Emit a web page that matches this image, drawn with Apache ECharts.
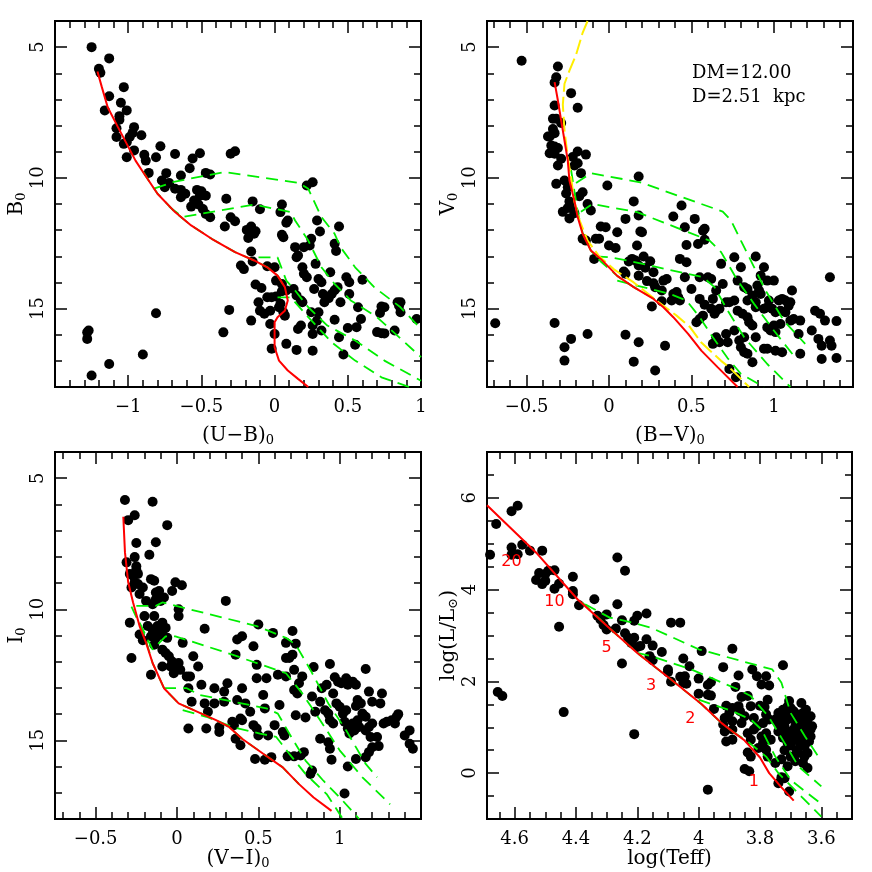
<!DOCTYPE html>
<html>
<head>
<meta charset="utf-8" />
<title>CMD</title>
<script src="https://cdn.jsdelivr.net/npm/echarts@6/dist/echarts.min.js"></script>
<style>html,body{margin:0;padding:0;background:#fff}</style>
</head>
<body>
<div id="main" style="width:872px;height:872px;"></div>
<script type="text/javascript">
// ---- panel 1 : B0 vs (U-B)0
const ubStars = [[-1.25,5.0],[-1.13,5.43],[-1.2,5.83],[-1.19,5.98],[-1.03,6.53],[-1.13,6.88],[-1.05,7.13],[-1.16,7.42],[-1.01,7.42],[-1.06,7.64],[-1.06,7.78],[-1.08,8.1],[-0.96,8.06],[-0.97,8.28],[-0.91,8.37],[-1.08,8.44],[-0.99,8.44],[-1.01,8.64],[-1.03,8.7],[-0.96,8.95],[-0.78,8.79],[-1.01,9.21],[-0.89,9.12],[-0.88,9.34],[-0.81,9.21],[-0.68,9.09],[-0.56,9.26],[-0.51,9.06],[-0.3,9.08],[-0.27,8.98],[-0.58,9.63],[-0.86,9.81],[-0.74,9.82],[-0.64,9.91],[-0.47,9.81],[-0.44,9.87],[-0.77,10.1],[-0.72,10.2],[-0.75,10.36],[-0.68,10.42],[-0.64,10.46],[-0.61,10.61],[-0.64,10.74],[-0.53,10.46],[-0.5,10.51],[-0.47,10.68],[-0.51,10.68],[-0.55,10.87],[-0.57,11.1],[-0.52,11.02],[-0.49,11.19],[-0.44,11.51],[-0.47,11.38],[-0.33,10.8],[-0.15,10.9],[-0.1,11.2],[-0.3,11.51],[-0.27,11.66],[-0.34,11.86],[-0.19,11.99],[-0.16,11.86],[-0.17,12.14],[-0.14,12.14],[-0.18,12.3],[-0.13,12.04],[-0.16,12.82],[0.05,11.02],[0.04,11.31],[0.08,11.72],[0.09,11.63],[0.05,12.18],[0.06,12.27],[0.14,12.65],[0.15,13.04],[0.16,12.97],[0.2,12.65],[0.24,12.59],[0.25,12.33],[0.29,11.63],[0.31,12.05],[0.22,10.29],[0.26,10.17],[0.44,11.86],[0.41,12.52],[-0.23,13.35],[-0.21,13.49],[-0.15,13.2],[-0.05,13.38],[0.0,13.42],[-0.13,14.08],[-0.09,14.21],[-0.05,14.57],[-0.02,14.57],[0.01,14.54],[0.05,14.34],[0.08,14.31],[-0.11,14.76],[-0.1,15.08],[-0.07,15.2],[-0.03,15.08],[-0.16,15.46],[-0.03,15.59],[0.01,13.93],[0.05,14.06],[0.13,14.25],[0.15,14.5],[0.18,14.69],[0.19,14.76],[0.03,14.95],[0.06,15.14],[0.07,15.27],[0.04,14.82],[0.0,15.97],[-0.02,16.54],[0.08,16.35],[0.16,15.78],[0.18,15.65],[0.15,16.58],[0.26,15.97],[0.26,15.65],[0.26,16.61],[0.3,15.14],[0.29,15.46],[0.32,15.84],[0.25,15.14],[0.2,13.67],[0.22,13.8],[0.19,13.42],[0.27,14.25],[0.3,13.87],[0.32,13.99],[0.28,13.29],[0.33,14.44],[0.35,14.6],[0.34,14.76],[0.37,14.6],[0.39,14.44],[0.41,14.3],[0.43,14.18],[0.38,13.61],[0.42,12.8],[0.41,15.43],[0.45,14.76],[0.44,16.1],[0.47,16.76],[0.49,13.8],[0.51,13.99],[0.51,14.44],[0.6,13.9],[0.5,15.74],[0.56,15.71],[0.55,16.38],[0.59,15.4],[0.57,14.95],[0.73,14.92],[0.72,15.17],[0.75,14.95],[0.7,15.9],[0.73,15.94],[0.75,15.95],[0.82,15.84],[0.84,14.76],[0.86,14.76],[0.85,14.89],[0.86,15.14],[0.97,15.4],[-0.35,15.91],[-0.31,15.05],[-0.81,15.18],[-1.28,15.91],[-1.27,15.84],[-1.28,16.16],[-0.9,16.76],[-1.13,17.12],[-1.25,17.56]];
const ubZams = [[-1.21,5.93],[-1.18,6.53],[-1.14,7.3],[-1.07,8.06],[-1.01,8.7],[-0.95,9.34],[-0.89,9.85],[-0.8,10.61],[-0.68,11.31],[-0.57,11.82],[-0.43,12.33],[-0.27,12.84],[-0.14,13.16],[-0.05,13.42],[0.02,13.74],[0.07,14.18],[0.09,14.69],[0.07,15.08],[0.02,15.33],[0.0,15.52],[0.0,16.48],[0.03,16.99],[0.09,17.37],[0.16,17.69],[0.23,18.0]];
const ubIso = [
  [[-0.9,9.75],[-0.86,10.1],[-0.8,10.6],[-0.68,11.31],[-0.57,11.82],[-0.43,12.33],[-0.27,12.84],[-0.14,13.16],[-0.05,13.42],[0.02,13.74],[0.06,14.1]],
  [[-0.82,10.4],[-0.68,10.14],[-0.34,9.78],[0.17,10.2],[0.23,10.42],[0.32,11.5],[0.41,12.14],[0.45,12.65],[0.55,13.42],[0.68,14.18],[0.86,14.95],[1.0,15.78]],
  [[-0.72,11.1],[-0.63,11.5],[-0.14,11.02],[0.11,11.31],[0.14,11.63],[0.23,12.4],[0.32,13.42],[0.41,14.06],[0.52,14.69],[0.7,15.33],[1.0,16.86]],
  [[-0.11,13.04],[0.02,13.04],[0.08,13.93],[0.14,14.31],[0.23,14.95],[0.36,15.65],[0.55,16.22],[0.75,16.99],[1.0,17.76]],
  [[0.02,14.57],[0.11,14.57],[0.23,15.33],[0.39,16.29],[0.55,16.99],[0.73,17.63],[0.92,18.0]]
];

// ---- panel 2 : V0 vs (B-V)0
const bvStars = [[-0.53,5.52],[-0.31,5.74],[-0.32,6.15],[-0.33,6.35],[-0.23,6.76],[-0.19,7.32],[-0.33,7.23],[-0.34,7.74],[-0.32,7.74],[-0.29,7.9],[-0.34,8.13],[-0.33,8.29],[-0.37,8.42],[-0.36,8.42],[-0.35,8.76],[-0.33,8.8],[-0.36,9.06],[-0.33,9.08],[-0.31,8.86],[-0.29,9.27],[-0.31,9.53],[-0.32,10.23],[-0.27,10.1],[-0.25,10.36],[-0.19,8.99],[-0.14,9.11],[-0.21,9.53],[-0.19,9.44],[-0.17,9.82],[-0.22,9.2],[-0.01,10.29],[0.18,9.95],[-0.26,10.6],[-0.24,10.9],[-0.23,11.15],[-0.25,11.15],[-0.24,11.55],[-0.21,11.35],[-0.18,10.7],[-0.16,10.55],[-0.13,11.0],[-0.11,11.25],[-0.28,11.3],[-0.16,12.33],[-0.14,12.4],[-0.08,12.33],[-0.06,12.33],[-0.09,13.1],[-0.05,11.86],[-0.02,11.89],[0.05,12.08],[0.1,11.57],[0.15,10.9],[0.18,11.44],[0.19,12.05],[0.39,11.48],[0.44,11.06],[0.46,11.89],[0.52,11.57],[0.57,12.02],[0.58,11.95],
  [0,12.59],[0.04,12.68],[0.17,12.59],[0.2,12.08],[0.47,12.57],[0.54,12.53],[0.58,12.37],[0.12,13.2],[0.14,13.1],[0.16,13.16],[0.18,13.35],[0.21,13.01],[0.25,13.19],[0.09,13.58],[0.1,13.67],[0.18,13.74],[0.22,13.44],[0.23,13.95],[0.27,13.61],[0.27,14.03],[0.28,14.18],[0.32,14.31],[0.33,13.93],[0.35,13.87],[0.39,14.44],[0.41,14.37],[0.43,14.69],[0.38,14.69],[0.42,14.57],[0.32,14.72],[0.26,14.92],[0.43,13.1],[0.47,13.23],[0.46,13.8],[0.55,13.8],[0.6,13.8],[0.62,13.87],[0.5,14.25],[0.55,14.63],[0.58,14.85],[0.63,14.63],[0.65,15.08],[0.62,15.01],[0.67,15.01],[0.68,13.29],[0.69,14.06],[0.65,14.31],[0.71,14.76],[0.73,14.76],[0.76,14.69],[0.76,13.04],[0.8,13.42],[0.78,13.93],[0.82,14.18],[0.84,14.25],[0.84,14.69],[0.87,14.5],[0.89,14.76],[0.89,13.01],[0.92,13.74],[0.94,13.42],[0.9,14.12],[0.91,14.31],[0.92,14.44],[0.96,13.93],[0.97,14.69],[1.0,13.93],[1.03,14.69],[1.05,14.63],[1.07,14.69],[1.1,14.76],[1.11,14.31],[1.09,14.89],[0.78,15.08],[0.81,15.2],[0.84,15.33],[0.85,15.52],[0.87,15.65],[0.89,14.95],[0.94,15.01],[0.96,14.95],[0.99,15.01],[1.01,15.14],[1.04,15.08],[1.07,15.14],[1.1,15.46],[1.12,15.4],[1.16,15.46],[1.15,15.97],[0.96,15.72],[0.98,15.84],[1.01,15.9],[1.04,15.59],[1.0,15.65],[0.55,15.4],[0.57,15.27],[0.53,15.52],[0.64,15.2],[0.65,16.1],[0.67,16.29],[0.63,16.35],[0.71,15.97],[0.72,16.29],[0.76,15.84],[0.79,16.22],[0.82,16.1],[0.8,16.48],[0.82,16.67],[0.84,16.73],[0.87,17.05],[0.89,16.1],[0.94,16.54],[0.96,16.54],[1.01,16.61],[1.05,16.67],[1.16,16.73],[1.23,15.84],[1.25,15.08],[1.28,15.2],[1.31,15.46],[1.38,15.48],[1.27,16.16],[1.29,16.42],[1.34,16.22],[1.35,16.42],[1.29,16.93],[1.38,16.89],[1.34,13.8],[0.1,16.0],[0.18,16.29],[0.34,16.42],[0.15,17.03],[0.28,17.37],[0.73,17.31],[0.77,17.63],
  [-0.69,15.56],[-0.33,15.55],[-0.27,16.48],[-0.27,16.99],[-0.23,16.16],[-0.13,15.97]];
const bvZams = [[-0.33,6.34],[-0.31,7.04],[-0.29,7.81],[-0.27,8.57],[-0.25,9.34],[-0.24,10.1],[-0.21,10.87],[-0.19,11.5],[-0.16,12.14],[-0.11,12.78],[-0.05,13.1],[0.05,13.75],[0.15,14.18],[0.27,14.63],[0.33,14.95],[0.39,15.33],[0.48,15.97],[0.56,16.61],[0.66,17.25],[0.78,18.0]];
const bvYellow = [[-0.13,4.0],[-0.16,4.45],[-0.2,5.3],[-0.24,5.9],[-0.27,6.4],[-0.28,7.2],[-0.27,8.2],[-0.25,9.2],[-0.23,10.0],[-0.21,10.9],[-0.18,11.6],[-0.13,12.4],[-0.06,13.0],[0.03,13.5],[0.15,14.0],[0.3,14.75],[0.41,15.27],[0.49,15.7],[0.56,16.3],[0.68,17.0],[0.73,17.25],[0.85,18.0]];
const bvIso = [
  [[-0.23,9.7],[-0.21,10.5],[-0.19,11.3],[-0.16,12.1],[-0.11,12.78],[-0.05,13.2],[0.05,13.75],[0.15,14.18],[0.28,14.65]],
  [[-0.2,10.2],[-0.11,9.82],[0.19,10.17],[0.69,11.29],[0.74,11.63],[0.8,12.4],[0.87,13.29],[0.95,14.31],[1.06,15.46],[1.19,16.35]],
  [[-0.17,11.3],[-0.1,11.0],[0.17,11.31],[0.61,12.4],[0.68,12.84],[0.78,13.93],[0.88,14.82],[1.0,15.84],[1.12,16.8]],
  [[-0.08,13.0],[0.01,13.04],[0.11,13.16],[0.57,13.8],[0.64,14.18],[0.72,15.08],[0.82,16.1],[0.96,17.12],[1.1,18.0]],
  [[0.05,13.93],[0.13,14.06],[0.37,14.44],[0.47,14.69],[0.55,15.33],[0.63,16.1],[0.72,16.9],[0.8,17.5],[0.94,18.0]]
];

// ---- panel 3 : I0 vs (V-I)0
const viStars = [[-0.32,5.83],[-0.15,5.9],[-0.26,6.41],[-0.3,6.6],[-0.06,6.79],[-0.25,7.47],[-0.13,7.44],[-0.26,8.01],[-0.17,7.92],[-0.31,8.21],[-0.25,8.36],[-0.25,8.49],[-0.29,8.65],[-0.27,8.72],[-0.24,8.65],[-0.26,8.97],[-0.28,9.17],[-0.24,9.04],[-0.21,9.17],[-0.23,9.42],[-0.19,9.68],[-0.16,8.85],[-0.14,8.91],[-0.01,8.97],[0.03,9.08],[-0.03,9.3],[-0.13,9.36],[-0.11,9.3],[-0.08,9.55],[-0.13,9.62],[-0.1,9.68],[-0.15,9.81],[0.01,10.0],[0.01,10.26],[0.3,9.68],[-0.29,10.51],[-0.2,10.26],[-0.14,10.26],[-0.18,10.64],[-0.15,10.77],[-0.12,10.64],[-0.09,10.51],[-0.07,10.71],[-0.16,11.03],[-0.13,11.09],[-0.1,10.9],[-0.08,11.03],[-0.06,11.09],[-0.23,10.96],[-0.21,11.18],[-0.14,11.35],[0.035,11.28],[-0.09,11.54],[-0.07,11.67],[-0.05,11.79],[-0.03,11.99],[-0.01,12.18],[0.01,12.05],[-0.04,12.18],[-0.02,12.44],[0.02,12.31],[0.06,12.56],[0.08,12.56],[-0.09,12.18],[-0.16,12.5],[-0.28,11.86],[0.1,11.79],[0.13,12.18],[0.17,10.74],[0.07,13.01],[0.09,13.53],[0.15,12.88],[0.17,13.59],[0.19,13.91],[0.07,14.55],[0.18,14.55],[0.23,13.01],[0.29,13.14],[0.31,12.82],[0.29,13.53],[0.26,14.49],[0.26,14.68],[0.23,13.59],[0.34,14.29],[0.36,14.94],[0.39,15.19],[0.35,14.42],[0.4,13.01],[0.37,13.46],[0.42,13.59],[0.39,14.17],[0.4,14.23],[0.45,13.91],[0.47,14.42],[0.49,14.55],[0.53,13.27],[0.54,13.78],[0.5,14.81],[0.48,15.71],[0.54,15.74],[0.58,15.64],[0.56,14.81],[0.37,11.15],[0.4,11.03],[0.36,11.73],[0.47,11.41],[0.49,12.12],[0.49,12.63],[0.5,10.58],[0.55,12.63],[0.62,12.5],[0.63,13.65],[0.6,14.42],[0.65,14.68],[0.66,14.81],[0.59,10.9],[0.67,11.28],[0.71,10.83],[0.73,11.31],[0.67,11.86],[0.69,11.86],[0.71,11.73],[0.67,12.56],[0.72,12.31],[0.72,13.08],[0.74,13.21],[0.73,14.04],[0.79,14.13],[0.77,12.56],[0.75,12.82],[0.83,13.33],[0.85,13.91],[0.88,13.53],[0.84,12.2],[0.94,12.09],[0.68,15.61],[0.72,15.61],[0.76,15.58],[0.78,15.45],[0.83,16.15],[0.82,16.28],[0.88,14.94],[0.93,15.07],[0.94,15.32],[0.95,15.74],[1.05,16.0],[1.03,17.03],[0.89,13.01],[0.92,12.88],[0.96,13.21],[0.97,12.59],[0.99,12.76],[1.01,12.82],[1.05,12.88],[1.08,12.76],[1.1,12.88],[1.16,12.28],[0.91,13.85],[0.93,13.98],[0.94,14.23],[0.96,14.36],[0.98,13.59],[1.0,13.72],[1.02,13.98],[1.03,14.29],[1.04,13.85],[1.05,14.55],[1.06,14.74],[1.08,14.36],[1.09,14.62],[1.11,14.23],[1.12,14.49],[1.14,13.98],[1.13,13.59],[1.16,14.1],[1.16,14.62],[1.18,14.49],[1.19,14.87],[1.2,14.36],[1.23,14.87],[1.2,15.26],[1.18,15.45],[1.24,15.22],[1.25,13.59],[1.26,13.21],[1.18,13.14],[1.27,14.36],[1.29,14.29],[1.32,14.23],[1.35,14.1],[1.36,14.0],[1.34,14.36],[1.16,15.64],[1.1,15.71],[1.4,14.81],[1.43,14.62],[1.43,15.13],[1.45,15.32],[1.1,13.69],[1.11,13.46],[1.2,13.53],[1.04,12.63]];
const viZams = [[-0.33,6.47],[-0.32,7.82],[-0.3,8.97],[-0.27,9.74],[-0.23,10.64],[-0.19,11.28],[-0.15,12.05],[-0.08,13.01],[0.01,13.59],[0.14,13.95],[0.24,14.23],[0.32,14.49],[0.4,14.94],[0.53,15.51],[0.65,16.03],[0.75,16.67],[0.84,17.18],[0.95,17.69]];
const viIso = [
  [[-0.28,9.9],[-0.25,10.3],[-0.2,11.0],[-0.15,12.05],[-0.08,13.01],[0.01,13.59],[0.14,13.95],[0.24,14.23],[0.32,14.49],[0.4,14.94],[0.53,15.51],[0.65,16.03],[0.75,16.67]],
  [[-0.25,9.87],[-0.13,9.87],[-0.09,9.74],[0.49,10.64],[0.67,11.09],[0.73,11.35],[0.82,12.31],[0.93,13.59],[1.04,14.62],[1.16,15.9],[1.23,16.41]],
  [[-0.23,10.51],[-0.15,11.54],[-0.07,11.03],[-0.01,11.03],[0.34,11.73],[0.67,12.44],[0.77,13.21],[0.88,14.23],[1.0,15.38],[1.14,16.41],[1.31,17.44]],
  [[-0.08,13.01],[0.06,13.01],[0.14,13.27],[0.55,13.78],[0.62,13.98],[0.69,14.74],[0.79,15.77],[0.9,16.54],[1.02,17.31],[1.12,18.0]],
  [[0.035,13.85],[0.18,14.1],[0.34,14.49],[0.51,14.74],[0.61,14.87],[0.69,15.51],[0.79,16.28],[0.92,17.05],[1.02,18.0]]
];

// ---- panel 4 : HR diagram
const hrStars = [[4.61,5.71],[4.59,5.83],[4.66,5.43],[4.68,4.76],[4.61,4.92],[4.61,4.76],[4.59,4.77],[4.575,4.98],[4.55,4.85],[4.51,4.85],[4.53,4.21],[4.52,4.36],[4.5,4.19],[4.5,4.34],[4.49,4.41],[4.47,4.42],[4.51,4.12],[4.47,4.02],[4.455,4.13],[4.41,4.28],[4.41,3.97],[4.41,3.9],[4.39,3.66],[4.455,3.19],[4.44,1.33],[4.655,1.77],[4.64,1.68],[4.265,4.7],[4.24,4.41],[4.265,3.68],[4.34,3.79],[4.33,3.43],[4.32,3.35],[4.3,3.46],[4.3,3.13],[4.27,3.15],[4.31,3.23],[4.25,3.33],[4.21,3.32],[4.2,3.43],[4.17,3.48],[4.24,3.05],[4.23,2.95],[4.21,2.95],[4.22,2.84],[4.2,2.75],[4.19,2.77],[4.17,2.92],[4.15,2.78],[4.25,2.39],[4.16,2.55],[4.15,2.46],[4.12,2.64],[4.1,2.26],[4.1,2.2],[4.09,3.28],[4.06,3.28],[4.09,1.99],[4.05,2.5],[4.03,2.33],[4.06,2.1],[4.05,1.97],[4.04,1.95],[4.045,2.11],[3.99,2.66],[4.0,2.06],[3.97,1.92],[3.96,1.98],[3.97,1.71],[3.96,1.69],[4.0,1.73],[3.95,1.4],[3.92,2.31],[3.89,2.71],[3.87,2.13],[3.88,1.88],[3.86,1.66],[3.87,1.46],[3.91,1.47],[3.9,1.31],[3.89,1.42],[3.915,1.2],[3.92,1.06],[3.915,0.91],[3.89,1.13],[3.89,0.95],[3.91,0.69],[3.89,0.73],[3.865,1.35],[3.86,1.09],[3.85,1.24],[3.84,0.87],[3.83,1.46],[3.84,1.68],[3.825,2.26],[3.81,2.11],[3.795,1.93],[3.78,2.11],[3.77,1.91],[3.775,1.6],[3.8,1.47],[3.785,1.44],[3.83,0.73],[3.84,0.45],[3.83,0.36],[3.85,0.09],[3.835,0.04],[3.82,1.2],[3.81,1.02],[3.82,0.95],[3.79,1.09],[3.795,0.8],[3.78,0.87],[3.77,1.17],[3.78,1.28],[3.805,0.55],[3.78,0.51],[3.775,0.36],[3.79,0.66],[3.765,0.73],[3.725,2.35],[3.705,1.57],[3.7,1.42],[3.725,1.38],[3.74,1.31],[3.75,1.17],[3.74,0.91],[3.75,0.22],[3.73,-0.09],[3.705,-0.4],[3.72,-0.11],[3.74,-0.22],[3.73,1.13],[3.72,1.02],[3.71,1.17],[3.7,1.24],[3.715,0.87],[3.725,0.77],[3.71,0.66],[3.69,1.17],[3.68,1.28],[3.665,1.53],[3.66,1.31],[3.685,1.02],[3.675,0.91],[3.655,1.09],[3.645,1.17],[3.695,0.8],[3.68,0.73],[3.66,0.77],[3.645,0.87],[3.635,0.95],[3.64,0.69],[3.655,0.58],[3.7,0.36],[3.685,0.26],[3.71,0.15],[3.675,0.44],[3.655,0.36],[3.645,0.44],[3.645,0.11],[3.66,0.22],[3.635,0.8],[3.63,1.02],[3.635,1.24],[3.65,1.38],[3.67,1.1],[3.69,0.95],[3.66,0.95],[3.7,0.6],[3.68,0.5],[3.65,0.7],[3.67,0.65],[3.69,1.35],[3.71,1.45],[3.64,1.0],[3.66,1.2],[3.68,1.15],[3.7,0.9],[3.72,1.3],[3.73,0.95],[3.74,1.1],[3.72,0.5],[3.73,0.3],[3.97,-0.36],[4.21,0.85]];
const hrZams = [[4.69,5.84],[4.526,4.78],[4.395,3.79],[4.286,3.13],[4.2,2.62],[4.09,2.04],[3.99,1.5],[3.925,1.09],[3.88,0.86],[3.85,0.71],[3.8,0.34],[3.77,0.0],[3.73,-0.31],[3.69,-0.6]];
const hrIso = [
  [[4.38,3.72],[4.286,3.13],[4.2,2.62],[4.09,2.04],[3.99,1.5],[3.925,1.09],[3.88,0.86]],
  [[4.37,3.68],[4.29,3.39],[4.24,3.32],[4.155,3.17],[4.0,2.7],[3.76,2.26],[3.73,1.97],[3.7,1.31],[3.653,0.8],[3.61,0.36]],
  [[4.2,2.62],[4.155,2.55],[4.024,2.26],[3.87,1.82],[3.83,1.68],[3.773,1.24],[3.72,0.66],[3.675,0.15],[3.6,-0.29]],
  [[4.0,1.6],[3.89,1.35],[3.83,1.17],[3.795,0.95],[3.75,0.36],[3.7,-0.15],[3.61,-0.62]],
  [[3.89,0.91],[3.84,0.69],[3.78,0.36],[3.74,0.0],[3.665,-0.51],[3.6,-0.95]]
];
const massLabels = [['20',4.61,4.6],['10',4.47,3.74],['5',4.3,2.73],['3',4.155,1.9],['2',4.027,1.18],['1',3.82,-0.18]];

// ---- ticks
const magMajor = [5, 10, 15];
const ubMajor = [-1, -0.5, 0, 0.5, 1];
const bvMajor = [-0.5, 0, 0.5, 1];
const viMajor = [-0.5, 0, 0.5, 1];
const teffMajor = [4.6, 4.4, 4.2, 4, 3.8, 3.6];
const lumMajor = [0, 2, 4, 6];

const FONT = 'DejaVu Serif';
function steps(a, b, s) {
  const out = [];
  for (let i = Math.round(a / s); i * s <= b + 1e-9; i++) out.push(+(i * s).toFixed(3));
  return out;
}
function fmt(v) { return String(+(+v).toFixed(2)).replace('-', '\u2212'); }

const grids = [
  { left: 55, top: 21, width: 366, height: 366 },
  { left: 487, top: 21, width: 366, height: 366 },
  { left: 55, top: 452, width: 366, height: 367 },
  { left: 487, top: 452, width: 365, height: 367 }
].map(g => Object.assign(g, { show: true, borderColor: '#000', borderWidth: 2, backgroundColor: 'transparent' }));

const xAxes = [], yAxes = [];
const rich = {
  a: { fontFamily: FONT, fontSize: 20, color: '#000' },
  b: { fontFamily: FONT, fontSize: 13, color: '#000', padding: [9, 0, 0, 0] }
};
function addAxes(list, dim, g, min, max, major, minor, inverse, name, gap) {
  const pos = dim === 'x' ? ['bottom', 'top'] : ['left', 'right'];
  const base = {
    gridIndex: g, type: 'value', min: min, max: max, inverse: inverse,
    axisLine: { show: false, onZero: false }, splitLine: { show: false },
    axisLabel: { show: false }
  };
  pos.forEach((p, k) => {
    const major_ = Object.assign({}, base, {
      position: p,
      axisTick: { show: true, inside: true, length: 12, customValues: major, lineStyle: { color: '#000', width: 1.5 } }
    });
    if (k === 0) {
      major_.axisLabel = {
        show: true, customValues: major, formatter: fmt, fontFamily: FONT, fontSize: 18,
        color: '#000', margin: dim === 'x' ? 11 : 8, rotate: dim === 'y' ? 90 : 0
      };
      major_.name = name;
      major_.nameLocation = 'middle';
      major_.nameGap = gap;
      major_.nameRotate = dim === 'y' ? 90 : 0;
      major_.nameTextStyle = { rich: rich };
    }
    list.push(major_);
    list.push(Object.assign({}, base, {
      position: p,
      axisTick: { show: true, inside: true, length: 7, customValues: minor, lineStyle: { color: '#000', width: 1.5 } }
    }));
  });
}

addAxes(xAxes, 'x', 0, -1.5, 1.0, ubMajor, steps(-1.4, 0.9, 0.1), false, '{a|(U\u2212B)}{b|0}', 38);
addAxes(yAxes, 'y', 0, 4, 18, magMajor, steps(4, 18, 1), true, '{a|B}{b|0}', 24);
addAxes(xAxes, 'x', 1, -0.74, 1.48, bvMajor, steps(-0.7, 1.4, 0.1), false, '{a|(B\u2212V)}{b|0}', 38);
addAxes(yAxes, 'y', 1, 4, 18, magMajor, steps(4, 18, 1), true, '{a|V}{b|0}', 24);
addAxes(xAxes, 'x', 2, -0.75, 1.5, viMajor, steps(-0.7, 1.4, 0.1), false, '{a|(V\u2212I)}{b|0}', 27);
addAxes(yAxes, 'y', 2, 4, 18, magMajor, steps(4, 18, 1), true, '{a|I}{b|0}', 24);
addAxes(xAxes, 'x', 3, 3.5, 4.69, teffMajor, steps(3.55, 4.65, 0.05), true, '{a|log(Teff)}', 24);
addAxes(yAxes, 'y', 3, -1, 7, lumMajor, steps(-0.5, 6.5, 0.5), false, '{a|log(L/L}{b|\u2299}{a|)}', 22);

const series = [];
function stars(g, data) {
  series.push({ type: 'scatter', xAxisIndex: 4 * g, yAxisIndex: 4 * g, data: data,
    symbolSize: 10, itemStyle: { color: '#000', opacity: 1 }, z: 2, silent: true });
}
function curve(g, data, color, dash, width) {
  series.push({ type: 'line', xAxisIndex: 4 * g, yAxisIndex: 4 * g, data: data,
    showSymbol: false, symbol: 'none', z: 3, silent: true,
    lineStyle: { color: color, width: width || 1.8, type: dash || 'solid', opacity: 1 } });
}
const GREEN = '#00ee00', RED = '#ff0000', YELLOW = '#ffee00';

stars(0, ubStars);
ubIso.forEach(l => curve(0, l, GREEN, [12, 7]));
curve(0, ubZams, RED, null, 2);

stars(1, bvStars);
bvIso.forEach(l => curve(1, l, GREEN, [12, 7]));
curve(1, bvYellow, YELLOW, [15, 5], 2);
curve(1, bvZams, RED, null, 2);

stars(2, viStars);
viIso.forEach(l => curve(2, l, GREEN, [12, 7]));
curve(2, viZams, RED, null, 2);

stars(3, hrStars);
hrIso.forEach(l => curve(3, l, GREEN, [12, 7]));
curve(3, hrZams, RED, null, 2);
series.push({
  type: 'scatter', xAxisIndex: 12, yAxisIndex: 12, symbolSize: 0, z: 4, silent: true,
  itemStyle: { opacity: 1 },
  data: massLabels.map(m => ({ name: m[0], value: [m[1], m[2]] })),
  label: { show: true, position: 'inside', formatter: p => p.name, color: RED, opacity: 1,
    fontFamily: 'DejaVu Sans', fontSize: 16 }
});

const chart = echarts.init(document.getElementById('main'));
chart.setOption({
  animation: false,
  backgroundColor: '#fff',
  grid: grids,
  xAxis: xAxes,
  yAxis: yAxes,
  series: series,
  graphic: [
    { type: 'text', left: 692, top: 64, style: { text: 'DM=12.00', font: '18px "DejaVu Serif"', fill: '#000' } },
    { type: 'text', left: 692, top: 88, style: { text: 'D=2.51  kpc', font: '18px "DejaVu Serif"', fill: '#000' } }
  ]
});
</script>
</body>
</html>
